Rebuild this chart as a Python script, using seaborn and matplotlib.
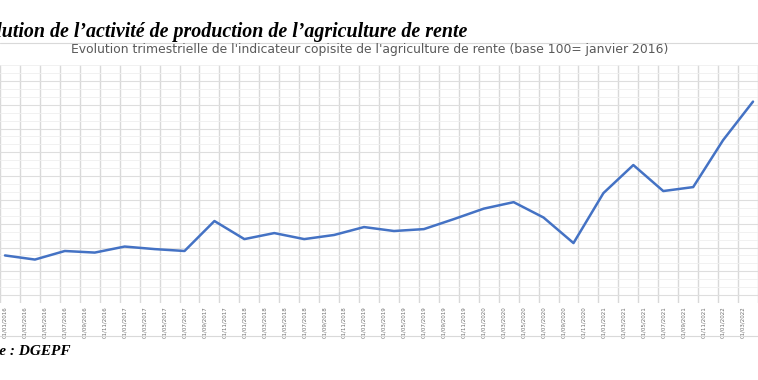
import pandas as pd
import matplotlib.pyplot as plt
import seaborn as sns
from matplotlib.ticker import MultipleLocator

# donnees (base 100 = janvier 2016), une valeur par trimestre
trimestres = ["2016-01", "2016-04", "2016-07", "2016-10",
              "2017-01", "2017-04", "2017-07", "2017-10",
              "2018-01", "2018-04", "2018-07", "2018-10",
              "2019-01", "2019-04", "2019-07", "2019-10",
              "2020-01", "2020-04", "2020-07", "2020-10",
              "2021-01", "2021-04", "2021-07", "2021-10",
              "2022-01", "2022-04"]
indice = [100.0, 97.4, 102.8, 101.8,
          105.6, 104.0, 102.8, 121.7,
          110.3, 114.1, 110.3, 112.9,
          117.9, 115.4, 116.6, 122.9,
          129.5, 133.6, 123.9, 107.8,
          139.3, 157.0, 140.6, 143.1,
          172.7, 197.0]

# etiquettes de l'axe des x (tous les deux mois)
dates_etiquettes = pd.date_range("2016-01-01", "2022-03-01", freq="2MS")
etiquettes = [d.strftime("%d/%m/%Y") for d in dates_etiquettes]

titre = "Evolution de l\u2019activité de production de l\u2019agriculture de rente"
sous_titre = ("Evolution trimestrielle de l'indicateur copisite de "
              "l'agriculture de rente (base 100= janvier 2016)")
source = "Source : DGEPF"


def mois_depuis_2016(d):
    d = pd.Timestamp(d)
    return (d.year - 2016) * 12 + d.month - 1


df = pd.DataFrame({"mois": [mois_depuis_2016(t) for t in trimestres],
                   "indice": indice})
pos_etiquettes = [mois_depuis_2016(d) for d in dates_etiquettes]

sns.set_style("white")
plt.rcParams["font.family"] = ["DejaVu Sans"]

fig = plt.figure(figsize=(7.58, 3.80), dpi=100)
# zone de trace coupee a gauche et a droite comme sur la capture
ax = fig.add_axes([0.0, 0.2026, 1.0, 0.626])

sns.lineplot(data=df, x="mois", y="indice", ax=ax, color="#4472C4",
             linewidth=1.8, zorder=3)

ax.set_xlim(0.15, 74.1)
ax.set_ylim(70, 220)

# grille verticale entre les etiquettes, horizontale majeure + mineure
ax.set_xticks(pos_etiquettes)
ax.set_xticklabels(etiquettes, rotation=90, fontsize=4.0, color="#6e6e6e")
ax.set_xticks([p - 0.5 for p in pos_etiquettes] + [75.5], minor=True)
ax.yaxis.set_major_locator(MultipleLocator(15))
ax.yaxis.set_minor_locator(MultipleLocator(5))
ax.tick_params(axis="both", which="both", length=0, pad=2)
ax.set_yticklabels([])
ax.grid(False)
ax.grid(axis="x", which="minor", color="#d9d9d9", linewidth=1.0)
ax.grid(axis="y", which="major", color="#dedede", linewidth=0.8)
ax.grid(axis="y", which="minor", color="#efefef", linewidth=0.6)
ax.set_xlabel("")
ax.set_ylabel("")
for s in ax.spines.values():
    s.set_visible(False)

# bordures de la zone du graphique
for y in [1 - 42.5 / 380, 1 - 336 / 380]:
    fig.add_artist(plt.Line2D([0, 1], [y, y], transform=fig.transFigure,
                              color="#d9d9d9", linewidth=0.8))

# titre et source coupes au bord gauche, comme sur la capture
fig.text(468 / 758, 1 - 37 / 380, titre, ha="right", va="baseline",
         family="Liberation Serif", weight="bold", style="italic",
         fontsize=14.4, color="black")
fig.text(370 / 758, 1 - 50 / 380, sous_titre, ha="center", va="center",
         fontsize=8.9, color="#595959")
fig.text(70 / 758, 1 - 355 / 380, source, ha="right", va="baseline",
         family="Liberation Serif", weight="bold", style="italic",
         fontsize=11, color="black")

fig.savefig("out.png", dpi=100)
